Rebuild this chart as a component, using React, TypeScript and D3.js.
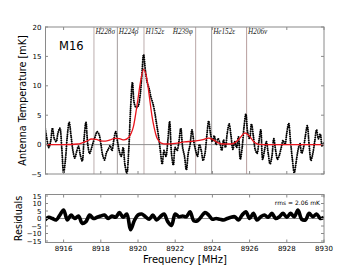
import * as d3 from "d3";
import React, { useEffect, useRef } from "react";

// spectrum, sampled every 0.1 MHz starting at 8915 MHz
const freqStart = 8915;
const freqStep = 0.1;
const antennaTemp = [
  3.0, 1.0, -0.5, 0.5, 2.8, 1.0, 0.5, 2.0, 2.8, -0.5,
  -4.8, -2.5, 1.5, 3.8, 1.5, -1.0, -2.3, -1.2, -0.3, -1.8,
  -2.8, 1.0, 3.8, 0.0, -1.5, -0.6, 0.5, 1.4, 2.2, 1.8,
  0.2, -1.8, -2.6, -1.4, -0.8, -0.2, -1.0, 0.8, 2.2, 0.5,
  -1.2, -2.0, -0.5, -3.5, -4.9, -1.0, 6.0, 10.6, 7.0, 6.3,
  6.5, 8.0, 11.5, 15.3, 12.5, 10.5, 9.5, 8.0, 7.0, 5.5,
  3.5, 1.5, -1.0, -3.3, -1.0, -2.0, 0.5, 3.9, -1.5, -3.5,
  -0.5, -1.0, 0.5, 2.8, -0.5, -2.0, -4.3, -1.5, 0.0, 2.5,
  0.5, -1.0, -2.0, 0.0, -1.0, -2.7, -1.5, 1.5, 4.0, 1.8,
  0.5, 1.5, 0.0, 1.0, 0.3, -1.0, 0.8, -0.5, 2.0, 3.5,
  1.5, -0.8, 0.5, -0.5, 1.3, -2.5, -0.5, 3.0, 5.2, 2.0,
  1.0, 3.5, 1.5, -0.8, -1.5, 0.5, 2.5, -2.5, -1.0, 0.5,
  -1.5, -3.3, -2.0, 1.0, -1.0, -2.5, -1.8, -0.5, 0.7, 0.0,
  2.0, 3.6, 0.5, -2.5, -4.8, -3.0, -1.0, 0.2, -1.5, -0.5,
  1.5, 3.2, 0.0, -2.7, -1.5, 0.5, 2.5, 1.0, 1.8, -0.3,
  0.5,
];

// fitted model (red)
const modelFreq = [
  8915, 8916, 8916.75, 8917, 8917.25, 8917.5, 8917.75, 8918, 8918.25, 8918.5,
  8918.75, 8919, 8919.25, 8919.5, 8919.625, 8919.75, 8919.875, 8920, 8920.125, 8920.3,
  8920.5, 8920.625, 8920.75, 8920.875, 8921, 8921.125, 8921.25, 8921.5, 8922, 8922.5,
  8923, 8923.5, 8923.8, 8924, 8924.25, 8924.5, 8925, 8925.25, 8925.5, 8925.75,
  8926, 8926.25, 8926.5, 8927, 8930,
];
const modelTemp = [
  0.0, 0.0, 0.1, 0.3, 0.6, 0.95, 0.9, 0.65, 0.6, 0.8,
  1.05, 1.0, 0.8, 1.2, 1.9, 3.0, 5.2, 7.8, 10.5, 12.8,
  10.8, 7.8, 4.9, 2.8, 1.3, 0.6, 0.25, 0.1, 0.2, 0.45,
  0.6, 0.85, 1.1, 0.9, 0.4, 0.1, 0.1, 0.4, 1.2, 2.0,
  1.4, 0.4, 0.05, 0.0, 0.0,
];

// residuals, sampled every 0.2 MHz
const residStep = 0.2;
const residuals = [
  -1.0, 0.8, 0.0, -1.0, 2.3, 5.7, -1.0, 2.3, 0.0, 1.7,
  -3.2, -2.1, 2.3, 0.0, 0.8, 1.7, 2.3, 0.0, 1.7, 0.8,
  3.9, 0.8, 3.0, -7.5, -1.5, 2.3, 3.0, 1.2, -0.5, 2.3,
  -1.0, 1.2, 3.0, -2.1, -4.6, 3.0, 1.2, 1.7, 1.2, 4.5,
  -1.5, -1.5, 1.2, 3.9, 2.3, -0.5, 0.0, -0.5, -1.0, 0.0,
  0.8, 1.2, -1.0, 2.3, 4.5, 0.0, 3.4, -1.0, 1.2, 2.3,
  0.8, 3.4, 0.0, 1.2, 3.4, 0.8, 3.4, 1.2, 5.7, -0.5,
  -1.0, 3.4, 1.2, 3.0, 0.0, 0.8,
];

const lineFreqs = [8917.63, 8918.89, 8920.32, 8923.1, 8923.96, 8925.84];
const lineNames = ["H228σ", "H224ρ", "H152ε", "H239φ", "He152ε", "H206ν"];
const lineColors = ["#d6cdcd", "#a39c9c", "#dbd2d2", "#baa6a6", "#9e9a9a", "#b89e9e"];
const lineWidths = [1.6, 1, 1.8, 1, 1, 1];
const labelSide = ["right", "right", "right", "left", "right", "right"];

const xTicks = [8916, 8918, 8920, 8922, 8924, 8926, 8928, 8930];
const yTicks = [-5, 0, 5, 10, 15, 20];
const residTicks = [-15, -10, -5, 0, 5, 10, 15];

export default function App() {
  const ref = useRef<SVGSVGElement | null>(null);

  useEffect(() => {
    document.body.style.margin = "0";
    if (!ref.current) return;
    const svg = d3.select(ref.current);
    svg.selectAll("*").remove();

    const left = 45, right = 324;
    const top = 27, bottom = 174;
    const rTop = 194.5, rBottom = 242.5;
    const frameColor = "#8a8a8a";
    const font = "DejaVu Sans, sans-serif";

    const x = d3.scaleLinear().domain([8915, 8930]).range([left, right]);
    const y = d3.scaleLinear().domain([-5, 20]).range([bottom, top]);
    const yr = d3.scaleLinear().domain([-16, 16]).range([rBottom, rTop]);

    const defs = svg.append("defs");
    defs.append("clipPath").attr("id", "clipMain")
      .append("rect").attr("x", left).attr("y", top)
      .attr("width", right - left).attr("height", bottom - top);
    defs.append("clipPath").attr("id", "clipRes")
      .append("rect").attr("x", left).attr("y", rTop)
      .attr("width", right - left).attr("height", rBottom - rTop);

    const main = svg.append("g").attr("clip-path", "url(#clipMain)");

    // transition lines
    lineFreqs.forEach((f, i) => {
      main.append("line")
        .attr("x1", x(f)).attr("x2", x(f))
        .attr("y1", top).attr("y2", bottom)
        .attr("stroke", lineColors[i])
        .attr("stroke-width", lineWidths[i]);
    });

    // zero line
    main.append("line")
      .attr("x1", left).attr("x2", right)
      .attr("y1", y(0)).attr("y2", y(0))
      .attr("stroke", "#8f8f8f").attr("stroke-width", 1);

    // data drawn as a dotted trace
    const dataLine = d3.line<number>()
      .x((_, i) => x(freqStart + i * freqStep))
      .y(d => y(d))
      .curve(d3.curveCatmullRom.alpha(0.5));

    main.append("path")
      .attr("d", dataLine(antennaTemp) as string)
      .attr("fill", "none")
      .attr("stroke", "#000")
      .attr("stroke-width", 2)
      .attr("stroke-linecap", "round")
      .attr("stroke-dasharray", "0 2.1");

    // model
    const modelLine = d3.line<number>()
      .x((_, i) => x(modelFreq[i]))
      .y(d => y(d))
      .curve(d3.curveMonotoneX);

    main.append("path")
      .attr("d", modelLine(modelTemp) as string)
      .attr("fill", "none")
      .attr("stroke", "#e8141c")
      .attr("stroke-width", 1.3);

    // line labels
    lineFreqs.forEach((f, i) => {
      const onLeft = labelSide[i] === "left";
      svg.append("text")
        .attr("x", onLeft ? x(f) - 3 : x(f) + 1.5)
        .attr("y", 34)
        .attr("text-anchor", onLeft ? "end" : "start")
        .attr("font-family", "Liberation Serif, serif")
        .attr("font-style", "italic")
        .attr("font-size", 7.2)
        .attr("fill", "#222")
        .text(lineNames[i]);
    });

    svg.append("text")
      .attr("x", 59).attr("y", 50)
      .attr("font-family", font)
      .attr("font-size", 11.5)
      .text("M16");

    // residual panel
    const res = svg.append("g").attr("clip-path", "url(#clipRes)");
    res.append("line")
      .attr("x1", left).attr("x2", right)
      .attr("y1", yr(0)).attr("y2", yr(0))
      .attr("stroke", "#8f8f8f");

    const resLine = d3.line<number>()
      .x((_, i) => x(freqStart + i * residStep))
      .y(d => yr(d))
      .curve(d3.curveCatmullRom.alpha(0.5));

    res.append("path")
      .attr("d", resLine(residuals) as string)
      .attr("fill", "none")
      .attr("stroke", "#000")
      .attr("stroke-width", 3.6)
      .attr("stroke-linejoin", "round");

    svg.append("text")
      .attr("x", 320).attr("y", 204.5)
      .attr("text-anchor", "end")
      .attr("font-family", font)
      .attr("font-size", 6)
      .text("rms =  2.06 mK");

    // frames and ticks
    const frame = (t: number, b: number, ys: d3.ScaleLinear<number, number>, ticks: number[], labelX: boolean) => {
      const g = svg.append("g");
      g.append("rect")
        .attr("x", left + 0.5).attr("y", t)
        .attr("width", right - left - 0.5).attr("height", b - t)
        .attr("fill", "none")
        .attr("stroke", frameColor).attr("stroke-width", 1);

      xTicks.forEach(v => {
        g.append("line").attr("x1", x(v)).attr("x2", x(v))
          .attr("y1", b).attr("y2", b - 3).attr("stroke", frameColor);
        g.append("line").attr("x1", x(v)).attr("x2", x(v))
          .attr("y1", t).attr("y2", t + 3).attr("stroke", frameColor);
        if (labelX) {
          g.append("text")
            .attr("x", x(v)).attr("y", b + 8.5)
            .attr("text-anchor", "middle")
            .attr("font-family", font).attr("font-size", 7)
            .text(String(v));
        }
      });

      ticks.forEach(v => {
        g.append("line").attr("x1", left).attr("x2", left + 3)
          .attr("y1", ys(v)).attr("y2", ys(v)).attr("stroke", frameColor);
        g.append("line").attr("x1", right).attr("x2", right - 3)
          .attr("y1", ys(v)).attr("y2", ys(v)).attr("stroke", frameColor);
        g.append("text")
          .attr("x", left - 3.5).attr("y", ys(v) + 2.5)
          .attr("text-anchor", "end")
          .attr("font-family", font).attr("font-size", 7)
          .text(v < 0 ? "\u2212" + Math.abs(v) : String(v));
      });
    };

    frame(top, bottom, y, yTicks, false);
    frame(rTop, rBottom, yr, residTicks, true);

    // axis titles
    svg.append("text")
      .attr("transform", `translate(26, ${(top + bottom) / 2}) rotate(-90)`)
      .attr("text-anchor", "middle")
      .attr("font-family", font).attr("font-size", 9.6)
      .text("Antenna Temperature [mK]");

    svg.append("text")
      .attr("transform", `translate(22, ${(rTop + rBottom) / 2}) rotate(-90)`)
      .attr("text-anchor", "middle")
      .attr("font-family", font).attr("font-size", 9.6)
      .text("Residuals");

    svg.append("text")
      .attr("x", 185).attr("y", 263)
      .attr("text-anchor", "middle")
      .attr("font-family", font).attr("font-size", 10)
      .text("Frequency [MHz]");
  }, []);

  return <svg ref={ref} width={360} height={270} style={{ display: "block", background: "#fff" }}></svg>;
}
